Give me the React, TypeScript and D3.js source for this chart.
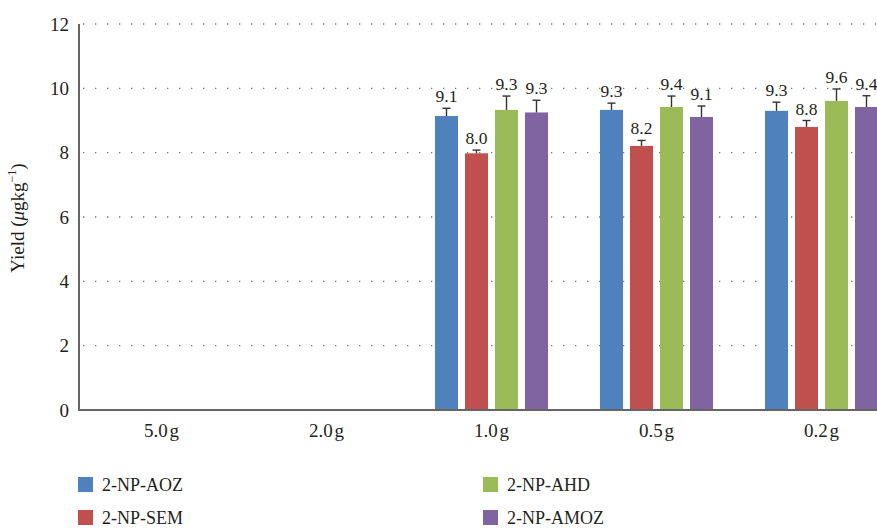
import { useEffect, useRef } from 'react'
import * as d3 from 'd3'

const categories = ['5.0g', '2.0g', '1.0g', '0.5g', '0.2g']
const seriesNames = ['2-NP-AOZ', '2-NP-SEM', '2-NP-AHD', '2-NP-AMOZ']
const seriesColors = ['#4F81BD', '#C0504D', '#9BBB59', '#8064A2']

// yield per category, one array per series (null = no bar)
const aozValues = [null, null, 9.14, 9.33, 9.3]
const semValues = [null, null, 7.98, 8.21, 8.8]
const ahdValues = [null, null, 9.33, 9.42, 9.61]
const amozValues = [null, null, 9.25, 9.11, 9.42]

const aozErrors = [null, null, 0.24, 0.21, 0.27]
const semErrors = [null, null, 0.1, 0.17, 0.2]
const ahdErrors = [null, null, 0.43, 0.34, 0.37]
const amozErrors = [null, null, 0.38, 0.34, 0.35]

const aozLabels = ['', '', '9.1', '9.3', '9.3']
const semLabels = ['', '', '8.0', '8.2', '8.8']
const ahdLabels = ['', '', '9.3', '9.4', '9.6']
const amozLabels = ['', '', '9.3', '9.1', '9.4']

const yTicks = [0, 2, 4, 6, 8, 10, 12]

const FONT = '"Liberation Serif", "DejaVu Serif", serif'
const TEXT = '#231f20'

export default function App() {
  const svgRef = useRef<SVGSVGElement>(null)

  useEffect(() => {
    document.body.style.margin = '0'
    if (!svgRef.current) return
    const svg = d3.select(svgRef.current)
    svg.selectAll('*').remove()

    const values = [aozValues, semValues, ahdValues, amozValues]
    const errors = [aozErrors, semErrors, ahdErrors, amozErrors]
    const labels = [aozLabels, semLabels, ahdLabels, amozLabels]

    const left = 79
    const bottom = 410
    const top = 24

    const y = d3.scaleLinear().domain([0, 12]).range([bottom, top])
    // plot runs past the right edge of the picture
    const x0 = d3.scaleBand<string>().domain(categories).range([left, left + 165 * 5])
    const groupW = 113
    const x1 = d3
      .scaleBand<string>()
      .domain(seriesNames)
      .range([(x0.bandwidth() - groupW) / 2, (x0.bandwidth() + groupW) / 2])
      .paddingInner(7 / 30)
      .paddingOuter(0)

    // gridlines
    svg
      .append('g')
      .selectAll('line')
      .data(yTicks.filter((t) => t > 0))
      .enter()
      .append('line')
      .attr('x1', left + 4)
      .attr('x2', 877)
      .attr('y1', (d) => y(d))
      .attr('y2', (d) => y(d))
      .attr('stroke', '#777')
      .attr('stroke-width', 1.3)
      .attr('stroke-dasharray', '1.3 10.7')

    // y tick labels
    svg
      .append('g')
      .selectAll('text')
      .data(yTicks)
      .enter()
      .append('text')
      .attr('x', left - 10)
      .attr('y', (d) => y(d))
      .attr('dy', '0.35em')
      .attr('text-anchor', 'end')
      .attr('font-family', FONT)
      .attr('font-size', 19)
      .attr('fill', TEXT)
      .text((d) => d)

    // x labels
    svg
      .append('g')
      .selectAll('text')
      .data(categories)
      .enter()
      .append('text')
      .attr('x', (d) => (x0(d) as number) + x0.bandwidth() / 2)
      .attr('y', 437)
      .attr('text-anchor', 'middle')
      .attr('font-family', FONT)
      .attr('font-size', 19)
      .attr('fill', TEXT)
      .text((d) => d.replace('g', '\u200ag'))

    // bars
    seriesNames.forEach((name, si) => {
      const g = svg.append('g')
      categories.forEach((cat, ci) => {
        const v = values[si][ci]
        if (v == null) return
        const e = errors[si][ci] as number
        const bx = (x0(cat) as number) + (x1(name) as number)
        const bw = x1.bandwidth()
        g.append('rect')
          .attr('x', bx)
          .attr('y', y(v))
          .attr('width', bw)
          .attr('height', y(0) - y(v))
          .attr('fill', seriesColors[si])
        const cx = bx + bw / 2
        g.append('line')
          .attr('x1', cx)
          .attr('x2', cx)
          .attr('y1', y(v))
          .attr('y2', y(v + e))
          .attr('stroke', '#333')
          .attr('stroke-width', 1.4)
        g.append('line')
          .attr('x1', cx - 4)
          .attr('x2', cx + 4)
          .attr('y1', y(v + e))
          .attr('y2', y(v + e))
          .attr('stroke', '#333')
          .attr('stroke-width', 1.4)
        g.append('text')
          .attr('x', cx)
          .attr('y', y(v + e) - 6)
          .attr('text-anchor', 'middle')
          .attr('font-family', FONT)
          .attr('font-size', 17.5)
          .attr('fill', TEXT)
          .text(labels[si][ci])
      })
    })

    // axes lines
    svg
      .append('path')
      .attr('d', `M${left},${top}V${bottom}H877`)
      .attr('fill', 'none')
      .attr('stroke', '#666')
      .attr('stroke-width', 2)

    // y title
    const title = svg
      .append('text')
      .attr('transform', `translate(24,218) rotate(-90)`)
      .attr('text-anchor', 'middle')
      .attr('font-family', FONT)
      .attr('font-size', 19)
      .attr('fill', TEXT)
    title.append('tspan').text('Yield (')
    title.append('tspan').attr('font-style', 'italic').text('\u03bc')
    title.append('tspan').text('gkg')
    title.append('tspan').attr('font-size', 12).attr('dy', -8).text('\u22121')
    title.append('tspan').attr('dy', 8).text(')')

    // legend
    const legendPos = [
      [78, 477],
      [78, 510],
      [483, 477],
      [483, 510],
    ]
    seriesNames.forEach((name, i) => {
      const [lx, ly] = legendPos[i]
      svg
        .append('rect')
        .attr('x', lx)
        .attr('y', ly)
        .attr('width', 15)
        .attr('height', 15)
        .attr('fill', seriesColors[i])
      svg
        .append('text')
        .attr('x', lx + 24)
        .attr('y', ly + 7.5)
        .attr('dy', '0.35em')
        .attr('font-family', FONT)
        .attr('font-size', 18)
        .attr('fill', TEXT)
        .text(name)
    })
  }, [])

  return <svg ref={svgRef} width={877} height={530} style={{ display: 'block' }} />
}
